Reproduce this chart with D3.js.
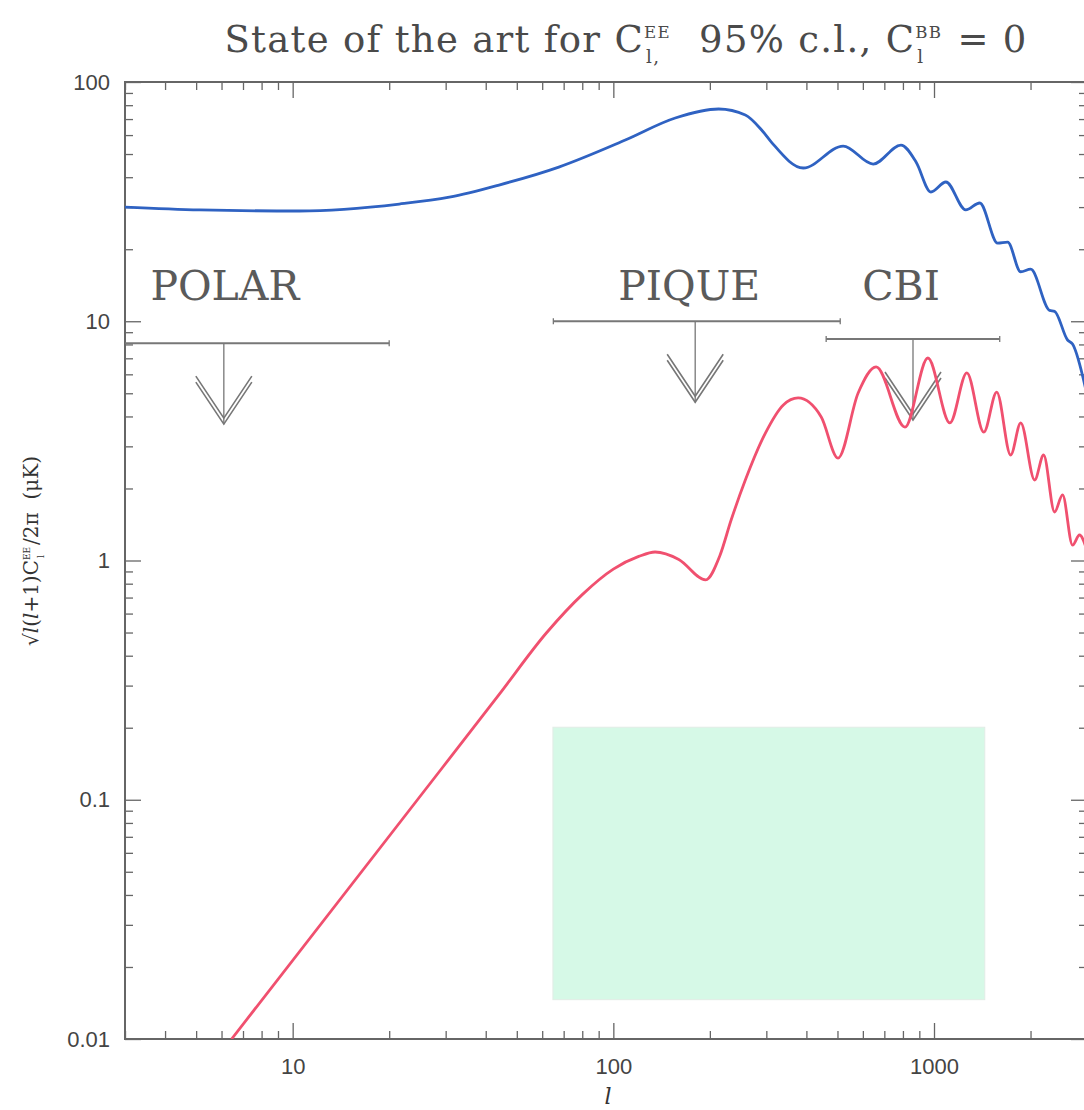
<!DOCTYPE html>
<html>
<head>
<meta charset="utf-8">
<script src="https://cdn.jsdelivr.net/npm/d3@7"></script>
<style>
  body { margin: 0; background: #fff; }
  svg { display: block; }
  text { white-space: pre; }
</style>
</head>
<body>
<svg id="chart" width="1084" height="1110"></svg>
<script>
// Temperature spectrum (blue) and E-mode spectrum (red), sqrt(l(l+1)C_l/2pi) in uK
const blueL = [3, 5.13, 10.5, 21.5, 30.8, 44, 67.6, 109, 156, 213, 258, 290, 311, 391, 521, 646, 789, 879, 978, 1089, 1256, 1389, 1580, 1697, 1864, 2002, 2293, 2377, 2609, 2704, 3000];
const blueV = [30.0, 29.2, 28.9, 30.9, 33.0, 37.1, 44.1, 57.2, 70.7, 77.1, 72.8, 63.0, 56.1, 43.7, 54.0, 45.4, 54.5, 46.3, 34.7, 38.2, 29.2, 31.2, 21.2, 21.4, 16.1, 16.5, 11.1, 11.0, 8.35, 8.03, 4.92];

const redL = [6.45, 24.5, 44, 62, 80, 100, 120, 135, 160, 194, 215, 233, 258, 298, 339, 377, 445, 502, 580, 660, 812, 957, 1121, 1266, 1430, 1569, 1734, 1864, 2060, 2197, 2377, 2517, 2704, 2843, 3000];
const redV = [0.01, 0.1, 0.275, 0.5, 0.72, 0.92, 1.04, 1.085, 1.01, 0.83, 1.05, 1.476, 2.17, 3.41, 4.47, 4.78, 3.98, 2.68, 5.01, 6.44, 3.61, 7.02, 3.76, 6.08, 3.44, 5.06, 2.76, 3.76, 2.17, 2.76, 1.595, 1.88, 1.16, 1.278, 1.1];

// 95% upper limits on EE
const limitNames = ['POLAR', 'PIQUE', 'CBI'];
const limitLmin = [2, 65, 461];
const limitLmax = [20, 510, 1603];
const limitLcen = [6.1, 180, 860];
const limitValue = [8.1, 10, 8.43];

// blanked-out legend box (l range, value range)
const boxL = [64.8, 1440];
const boxV = [0.0146, 0.201];

const xTickLabels = [10, 100, 1000];
const yTickLabels = [0.01, 0.1, 1, 10, 100];

const svg = d3.select('#chart');
const serif = 'DejaVu Serif';
const sans = 'Liberation Sans';
const axisColor = '#666';

const x = d3.scaleLog().domain([3, 3000]).range([125, 1087]);
const y = d3.scaleLog().domain([0.01, 100]).range([1039, 82]);

const minorX = [];
[1, 10, 100, 1000].forEach(d => { for (let k = 1; k < 10; k++) { const v = d * k; if (v >= 3 && v <= 3000) minorX.push(v); } });
const minorY = [];
[0.01, 0.1, 1, 10].forEach(d => { for (let k = 1; k < 10; k++) minorY.push(d * k); });
minorY.push(100);

svg.append('defs').append('clipPath').attr('id', 'plotClip')
  .append('rect')
  .attr('x', x.range()[0]).attr('y', y.range()[1])
  .attr('width', x.range()[1] - x.range()[0]).attr('height', y.range()[0] - y.range()[1]);

// legend box (blank green)
svg.append('rect')
  .attr('x', x(boxL[0])).attr('y', y(boxV[1]))
  .attr('width', x(boxL[1]) - x(boxL[0]))
  .attr('height', y(boxV[0]) - y(boxV[1]))
  .attr('fill', '#d6f9e7')
  .attr('stroke', '#e2ece6')
  .attr('stroke-width', 1);

// axes: ticks point inward on all four sides
function isMajor(v) { return Math.abs(Math.log10(v) - Math.round(Math.log10(v))) < 1e-6; }
const fmt = v => v >= 1 ? d3.format('d')(v) : String(+v.toPrecision(1));

function styleAxis(g) {
  g.select('.domain').remove();
  g.selectAll('line').attr('stroke', axisColor).attr('stroke-width', 1.3);
  g.selectAll('text').attr('fill', '#444').attr('font-family', sans).attr('font-size', 22);
}

const tickLen = v => isMajor(v) ? 16 : 8;

const axBottom = svg.append('g').attr('transform', `translate(0,${y.range()[0]})`)
  .call(d3.axisBottom(x).tickValues(minorX).tickSize(0).tickPadding(19)
    .tickFormat(v => xTickLabels.includes(v) ? fmt(v) : ''));
axBottom.selectAll('.tick line').attr('y2', d => -tickLen(d));
styleAxis(axBottom);

const axTop = svg.append('g').attr('transform', `translate(0,${y.range()[1]})`)
  .call(d3.axisTop(x).tickValues(minorX).tickSize(0).tickFormat(''));
axTop.selectAll('.tick line').attr('y2', d => tickLen(d));
styleAxis(axTop);

const axLeft = svg.append('g').attr('transform', `translate(${x.range()[0]},0)`)
  .call(d3.axisLeft(y).tickValues(minorY).tickSize(0).tickPadding(15)
    .tickFormat(v => yTickLabels.some(t => Math.abs(t - v) < 1e-9) ? fmt(v) : ''));
axLeft.selectAll('.tick line').attr('x2', d => tickLen(d));
styleAxis(axLeft);

const axRight = svg.append('g').attr('transform', `translate(${x.range()[1]},0)`)
  .call(d3.axisRight(y).tickValues(minorY).tickSize(0).tickFormat(''));
axRight.selectAll('.tick line').attr('x2', d => -tickLen(d));
styleAxis(axRight);

// frame
svg.append('rect')
  .attr('x', x.range()[0]).attr('y', y.range()[1])
  .attr('width', x.range()[1] - x.range()[0]).attr('height', y.range()[0] - y.range()[1])
  .attr('fill', 'none').attr('stroke', axisColor).attr('stroke-width', 2);

// upper limits
const limits = limitNames.map((n, i) => ({ name: n, lmin: limitLmin[i], lmax: limitLmax[i], lc: limitLcen[i], v: limitValue[i] }));
const limG = svg.append('g').attr('clip-path', 'url(#plotClip)');
const grey = '#777';
const arrowLen = 81, armW = 28, armH = 42;
limits.forEach(d => {
  const yy = y(d.v), xc = x(d.lc);
  limG.append('line').attr('x1', x(d.lmin)).attr('x2', x(d.lmax)).attr('y1', yy).attr('y2', yy)
    .attr('stroke', grey).attr('stroke-width', 2);
  [d.lmin, d.lmax].forEach(l => limG.append('line')
    .attr('x1', x(l)).attr('x2', x(l)).attr('y1', yy - 3).attr('y2', yy + 3)
    .attr('stroke', grey).attr('stroke-width', 1.3));
  limG.append('line').attr('x1', xc).attr('x2', xc).attr('y1', yy).attr('y2', yy + arrowLen)
    .attr('stroke', grey).attr('stroke-width', 1.3);
  [0, -6].forEach(off => {
    const tip = yy + arrowLen + off;
    limG.append('path')
      .attr('d', `M${xc - armW},${tip - armH}L${xc},${tip}L${xc + armW},${tip - armH}`)
      .attr('fill', 'none').attr('stroke', grey).attr('stroke-width', 1.6);
  });
});

const labelOffset = { POLAR: 1, PIQUE: -6, CBI: -12 };
svg.append('g').selectAll('text').data(limits).join('text')
  .attr('x', d => x(d.lc) + labelOffset[d.name])
  .attr('y', 300)
  .attr('text-anchor', 'middle')
  .attr('font-family', serif).attr('font-size', 41)
  .attr('fill', '#5a5a5a')
  .text(d => d.name);

// curves
const curveG = svg.append('g').attr('clip-path', 'url(#plotClip)');
const line = d3.line().x(d => x(d[0])).y(d => y(d[1])).curve(d3.curveMonotoneX);
curveG.append('path').datum(d3.zip(redL, redV)).attr('d', line)
  .attr('fill', 'none').attr('stroke', '#f0506f').attr('stroke-width', 2.8);
curveG.append('path').datum(d3.zip(blueL, blueV)).attr('d', line)
  .attr('fill', 'none').attr('stroke', '#2f62c2').attr('stroke-width', 2.8);

// rich text helper: runs of normal text and stacked sup/sub pairs
function richText(g, parts, size, family, fill, spacing) {
  let cx = 0;
  const add = (tx, ty, fs, str) => g.append('text')
    .attr('x', tx).attr('y', ty).attr('font-size', fs)
    .attr('font-family', family).attr('fill', fill)
    .attr('letter-spacing', spacing || 0).text(str);
  parts.forEach(p => {
    if (p.sup !== undefined) {
      const s = size * 0.45;
      const a = add(cx, -size * 0.38, s, p.sup);
      const b = add(cx + 2, size * 0.3, s * 1.1, p.sub);
      cx += Math.max(a.node().getComputedTextLength(), b.node().getComputedTextLength() + 2) + 2;
    } else {
      const t = add(cx, 0, size, p.text).attr('font-style', p.italic ? 'italic' : null);
      cx += t.node().getComputedTextLength();
    }
  });
  return cx;
}

// title
const titleG = svg.append('g');
const tw = richText(titleG, [
  { text: 'State of the art for C' }, { sup: 'EE', sub: 'l,' },
  { text: '  95% c.l., C' }, { sup: 'BB', sub: 'l' }, { text: ' = 0' }
], 37, serif, '#4a4a4a', 1.3);
titleG.attr('transform', `translate(${626 - tw / 2},52)`);

// y label
const ylabG = svg.append('g');
const yw = richText(ylabG, [
  { text: '√' }, { text: 'l', italic: true }, { text: '(' }, { text: 'l', italic: true },
  { text: '+1)C' }, { sup: 'EE', sub: 'l' }, { text: '/2π  (μK)' }
], 20, serif, '#333');
ylabG.attr('transform', `translate(38,${551 + yw / 2}) rotate(-90)`);

// x label
svg.append('text').attr('x', 608).attr('y', 1104).attr('text-anchor', 'middle')
  .attr('font-family', serif).attr('font-style', 'italic').attr('font-size', 22).attr('fill', '#333')
  .text('l');
</script>
</body>
</html>
